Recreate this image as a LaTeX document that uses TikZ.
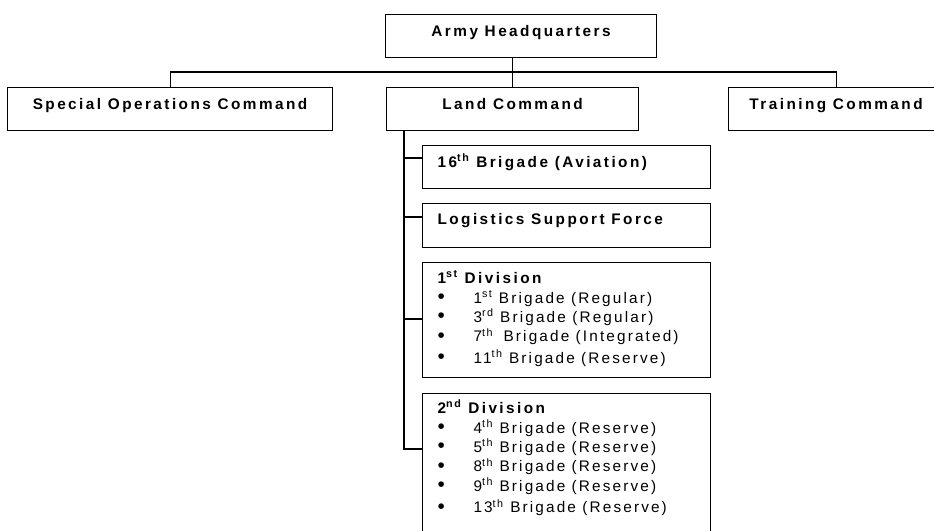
\documentclass[tikz,border=0pt]{standalone}
\usepackage{fontspec}
\setmainfont{Liberation Sans}[LetterSpace=14, BoldFeatures={LetterSpace=16}]
% one line of a division box, filling the box width
\newcommand\divline[1]{\hbox to\hsize{#1\hfil}}
% one bulleted brigade line inside a division box
\newcommand\brigitem[1]{\divline{\makebox[27pt][l]{\raisebox{-0.3pt}{\scalebox{1.35}{\textbullet}}}#1}}
\begin{document}
\begin{tikzpicture}[x=0.75pt, y=-0.75pt,
  line width=0.8pt,
  every node/.style={font=\fontsize{11.5}{14.6}\selectfont},
  unit/.style={draw, inner sep=0pt, anchor=north west,
    text height=16.5pt, text depth=15.75pt,
    font=\fontsize{11.5}{14.6}\selectfont\bfseries},
  subunit/.style={unit, inner xsep=11.25pt, inner ysep=0pt}
]
\clip (0,0) rectangle (934,531);

% command level
\node[unit, minimum width=203.25pt] (hq) at (385,14) {Army Headquarters};
\node[unit, minimum width=243.75pt] (soc) at (7,87) {Special Operations Command};
\node[unit, minimum width=189pt] (land) at (386,87) {Land Command};
\node[unit, minimum width=161.25pt] (tc) at (728,87) {Training Command};

% formations under Land Command
\node[subunit] (b16) at (422,145)
  {\makebox[193.5pt][l]{16\textsuperscript{th} Brigade (Aviation)}};
\node[subunit, text height=15.75pt, text depth=17.25pt] (lsf) at (422,203)
  {\makebox[193.5pt][l]{Logistics Support Force}};
\node[subunit, text height=15.75pt, text depth=70.5pt] (div1) at (422,262)
  {\vtop{\hsize=193.5pt\lineskiplimit=-20pt
    \divline{1\textsuperscript{st} Division}
    \mdseries
    \brigitem{1\textsuperscript{st} Brigade (Regular)}
    \brigitem{3\textsuperscript{rd} Brigade (Regular)}
    \brigitem{7\textsuperscript{th}\hspace{3pt} Brigade (Integrated)}
    \vskip1.5pt
    \brigitem{11\textsuperscript{th} Brigade (Reserve)}}};
\node[subunit, text height=15pt, text depth=97.5pt] (div2) at (422,393)
  {\vtop{\hsize=193.5pt\lineskiplimit=-20pt
    \divline{2\textsuperscript{nd} Division}
    \mdseries
    \brigitem{4\textsuperscript{th} Brigade (Reserve)}
    \brigitem{5\textsuperscript{th} Brigade (Reserve)}
    \brigitem{8\textsuperscript{th} Brigade (Reserve)}
    \brigitem{9\textsuperscript{th} Brigade (Reserve)}
    \vskip1.5pt
    \brigitem{13\textsuperscript{th} Brigade (Reserve)}}};

% headquarters bus
\coordinate (bus) at (0,72);
\draw (hq.south -| land.north) -- (land.north);
\draw (soc.north) -- (soc.north |- bus) -- (tc.north |- bus) -- (tc.north);

% Land Command spine and branches
\coordinate (s1) at (404,158);
\coordinate (s2) at (404,217);
\coordinate (s3) at (404,319);
\coordinate (s4) at (404,449);
\draw (land.south -| s1) -- (s4) -- (s4 -| div2.west);
\draw (s1) -- (s1 -| b16.west);
\draw (s2) -- (s2 -| lsf.west);
\draw (s3) -- (s3 -| div1.west);
\end{tikzpicture}
\end{document}
